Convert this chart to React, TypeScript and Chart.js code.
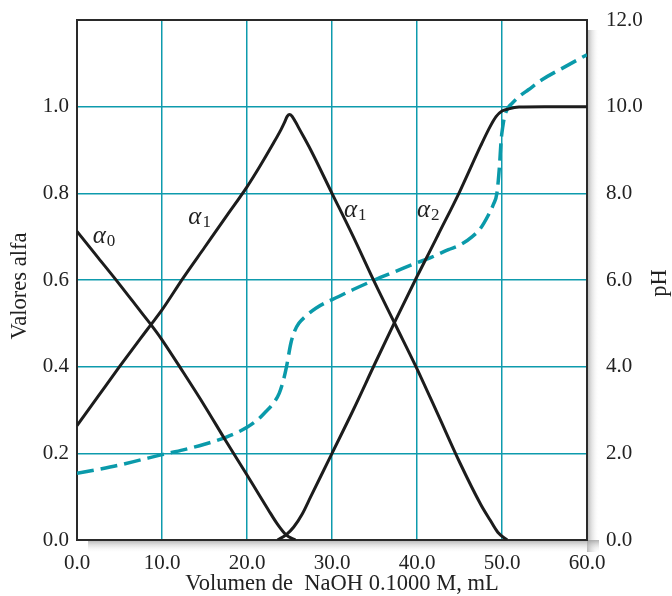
import React, { useEffect, useRef } from 'react';
import { Chart, registerables } from 'chart.js';

Chart.register(...registerables);

// ---- Data ----
const alpha0X = [0, 2.5, 5, 7.5, 8.7, 10, 12.5, 15, 17.5, 20, 21.4, 22.5, 23.5, 24.6, 25.7];
const alpha0Y = [0.712, 0.651, 0.59, 0.527, 0.497, 0.462, 0.387, 0.31, 0.229, 0.15, 0.105, 0.07, 0.039, 0.012, 0];

const alpha1X = [0, 2.5, 5, 7.5, 8.7, 10, 12.5, 15, 17.5, 20, 21.5, 23, 24, 24.4, 24.75, 25, 25.3, 25.7, 26.2, 27.5, 30, 32.5, 35, 37.5, 40, 42.5, 45, 47.5, 48.6, 49.5, 50.6];
const alpha1Y = [0.264, 0.332, 0.4, 0.466, 0.497, 0.531, 0.605, 0.675, 0.745, 0.815, 0.862, 0.912, 0.947, 0.963, 0.978, 0.982, 0.978, 0.965, 0.947, 0.9, 0.8, 0.7, 0.595, 0.495, 0.395, 0.288, 0.18, 0.082, 0.046, 0.018, 0];

const alpha2X = [23.6, 24.6, 25.5, 26.5, 27.5, 30, 32.5, 35, 37.5, 40, 41.4, 42.5, 45, 47.5, 48.6, 49.3, 50, 50.8, 52, 55, 60];
const alpha2Y = [0, 0.012, 0.03, 0.06, 0.1, 0.2, 0.3, 0.405, 0.508, 0.608, 0.662, 0.705, 0.803, 0.91, 0.954, 0.977, 0.99, 0.995, 0.999, 1.0, 1.0];

const phX = [0, 2.5, 5, 7.5, 10, 12.5, 15, 17.5, 20, 21.4, 22.2, 23, 23.8, 24.3, 24.65, 25.16, 25.6, 26.1, 27, 28.1, 30.8, 32.5, 35, 37.5, 40, 41.4, 43.7, 45, 46.5, 47.5, 48.4, 49, 49.4, 49.7, 49.9, 50.1, 50.3, 50.7, 51.2, 52, 53.1, 54.7, 57.5, 60];
const phY = [1.54, 1.63, 1.73, 1.85, 1.97, 2.08, 2.21, 2.37, 2.6, 2.8, 2.96, 3.13, 3.39, 3.7, 4.0, 4.54, 4.82, 5.0, 5.18, 5.35, 5.62, 5.78, 6.0, 6.2, 6.4, 6.5, 6.7, 6.8, 7.0, 7.2, 7.5, 7.75, 8.0, 8.62, 9.23, 9.55, 9.77, 9.97, 10.08, 10.23, 10.39, 10.62, 10.93, 11.2];

// curve labels: subscript, x (mL), y (alpha, baseline)
const labelSubs = ['0', '1', '1', '2'];
const labelX = [1.85, 13.1, 31.4, 40.0];
const labelY = [0.686, 0.729, 0.745, 0.745];

const xTitle = 'Volumen de  NaOH 0.1000 M, mL';
const yTitle = 'Valores alfa';
const y1Title = 'pH';

const SERIF = '"Liberation Serif", "Times New Roman", serif';
const TEAL = '#0E9BAD';
const DASH_TEAL = '#0A9AAA';
const INK = '#1c1c1c';
const TICK_SIZE = 21;
const TITLE_SIZE = 22.5;

const pts = (xs: number[], ys: number[]) => xs.map((x, i) => ({ x, y: ys[i] }));

const decorPlugin = {
  id: 'decor',
  beforeDraw(chart: any) {
    const { ctx, chartArea: a } = chart;
    ctx.save();
    let g = ctx.createLinearGradient(a.right, 0, a.right + 12, 0);
    g.addColorStop(0, 'rgba(150,150,150,0.75)');
    g.addColorStop(1, 'rgba(255,255,255,0)');
    ctx.fillStyle = g;
    ctx.fillRect(a.right, a.top + 10, 12, a.bottom - a.top + 2);
    g = ctx.createLinearGradient(0, a.bottom, 0, a.bottom + 13);
    g.addColorStop(0, 'rgba(150,150,150,0.75)');
    g.addColorStop(1, 'rgba(255,255,255,0)');
    ctx.fillStyle = g;
    ctx.fillRect(a.left + 11, a.bottom, a.right - a.left - 11 + 12, 13);
    ctx.fillStyle = '#fff';
    ctx.fillRect(a.left, a.top, a.right - a.left, a.bottom - a.top);
    ctx.restore();
  },
  beforeDatasetsDraw(chart: any) {
    const { ctx, chartArea: a } = chart;
    ctx.save();
    ctx.strokeStyle = '#2a2a2a';
    ctx.lineWidth = 2;
    ctx.strokeRect(a.left, a.top, a.right - a.left, a.bottom - a.top);
    ctx.restore();
  },
  afterDraw(chart: any) {
    const { ctx, chartArea: a, scales } = chart;
    ctx.save();
    ctx.fillStyle = '#222';
    ctx.font = `${TITLE_SIZE}px ${SERIF}`;
    ctx.textAlign = 'center';
    ctx.textBaseline = 'middle';
    ctx.fillText(xTitle, (a.left + a.right) / 2 + 10, 584);
    ctx.save();
    ctx.translate(20, (a.top + a.bottom) / 2 + 6);
    ctx.rotate(-Math.PI / 2);
    ctx.fillText(yTitle, 0, 0);
    ctx.restore();
    ctx.save();
    ctx.translate(660, (a.top + a.bottom) / 2 + 3);
    ctx.rotate(-Math.PI / 2);
    ctx.fillText(y1Title, 0, 0);
    ctx.restore();
    ctx.textAlign = 'left';
    ctx.textBaseline = 'alphabetic';
    labelSubs.forEach((s, i) => {
      const px = scales.x.getPixelForValue(labelX[i]);
      const py = scales.y.getPixelForValue(labelY[i]);
      ctx.font = `italic 25px ${SERIF}`;
      ctx.fillText('α', px, py);
      const w = ctx.measureText('α').width;
      ctx.font = `17px ${SERIF}`;
      ctx.fillText(s, px + w + 1, py + 3);
    });
    ctx.restore();
  },
};

export default function App() {
  const ref = useRef<HTMLCanvasElement | null>(null);

  useEffect(() => {
    if (!ref.current) return;
    const black = (xs: number[], ys: number[]) => ({
      data: pts(xs, ys),
      yAxisID: 'y',
      borderColor: INK,
      borderWidth: 3,
      borderJoinStyle: 'round' as const,
      pointRadius: 0,
      cubicInterpolationMode: 'monotone' as const,
      fill: false,
    });
    const tickFont = { family: SERIF, size: TICK_SIZE };
    const fitV = (w: number) => (s: any) => {
      s.width = w;
      s.paddingTop = 0;
      s.paddingBottom = 0;
    };
    const chart = new Chart(ref.current, {
      type: 'line',
      data: {
        datasets: [
          black(alpha0X, alpha0Y),
          black(alpha1X, alpha1Y),
          black(alpha2X, alpha2Y),
          {
            data: pts(phX, phY),
            yAxisID: 'y1',
            borderColor: DASH_TEAL,
            borderWidth: 3.5,
            borderDash: [17, 7],
            pointRadius: 0,
            cubicInterpolationMode: 'monotone' as const,
            fill: false,
          },
        ],
      },
      options: {
        animation: false,
        responsive: false,
        maintainAspectRatio: false,
        layout: { padding: { top: 20, left: 0, right: 0, bottom: 0 } },
        plugins: { legend: { display: false }, tooltip: { enabled: false } },
        scales: {
          x: {
            type: 'linear',
            min: 0,
            max: 60,
            afterFit: (s: any) => {
              s.height = 56;
              s.paddingLeft = 0;
              s.paddingRight = 0;
            },
            ticks: {
              stepSize: 10,
              padding: 11,
              color: '#222',
              font: tickFont,
              callback: (v: any) => Number(v).toFixed(1),
              maxRotation: 0,
            },
            grid: { color: TEAL, lineWidth: 1.5, drawTicks: false },
            border: { display: false },
          },
          y: {
            type: 'linear',
            position: 'left',
            min: 0,
            max: 1.2,
            afterFit: fitV(77),
            ticks: {
              stepSize: 0.2,
              padding: 8,
              color: '#222',
              font: tickFont,
              callback: (v: any) => (Number(v) > 1.1 ? '' : Number(v).toFixed(1)),
            },
            grid: { color: TEAL, lineWidth: 1.5, drawTicks: false },
            border: { display: false },
          },
          y1: {
            type: 'linear',
            position: 'right',
            min: 0,
            max: 12,
            afterFit: fitV(85),
            ticks: {
              stepSize: 2,
              padding: 19,
              color: '#222',
              font: tickFont,
              callback: (v: any) => Number(v).toFixed(1),
            },
            grid: { display: false, drawTicks: false },
            border: { display: false },
          },
        },
      },
      plugins: [decorPlugin],
    });
    return () => chart.destroy();
  }, []);

  return (
    <div style={{ position: 'fixed', left: 0, top: 0, width: 672, height: 596, background: '#fff' }}>
      <canvas ref={ref} width={672} height={596} style={{ width: 672, height: 596, display: 'block' }} />
    </div>
  );
}
